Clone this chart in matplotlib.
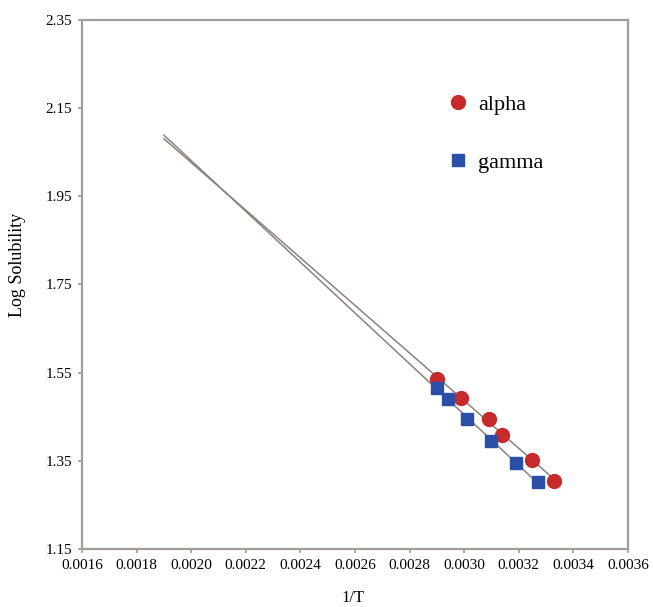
import numpy as np
import matplotlib.pyplot as plt

# Data
alpha_x = [0.00290, 0.00299, 0.00309, 0.00314, 0.00325, 0.00333]
alpha_y = [1.536, 1.493, 1.445, 1.409, 1.352, 1.305]
gamma_x = [0.00290, 0.00294, 0.00301, 0.00310, 0.00319, 0.00327]
gamma_y = [1.516, 1.491, 1.444, 1.394, 1.344, 1.303]

# Trend lines start here
line_start = 0.0019

xticks = np.arange(0.0016, 0.00361, 0.0002)
yticks = np.arange(1.15, 2.351, 0.2)

plt.rcParams['font.family'] = ['Liberation Serif', 'DejaVu Serif']

fig = plt.figure(figsize=(6.53, 6.07), dpi=100)
ax = fig.add_axes([0.1256, 0.0956, 0.8361, 0.8715])

frame = '#a39c97'
line_col = '#8c817c'

# Linear fits, drawn from line_start to the last point
for xs, ys in [(alpha_x, alpha_y), (gamma_x, gamma_y)]:
    k, b = np.polyfit(xs, ys, 1)
    xl = np.array([line_start, max(xs)])
    ax.plot(xl, k * xl + b, color=line_col, lw=1.1, zorder=2)

ax.plot(alpha_x, alpha_y, 'o', color='#c62a2b', ms=10, mec='#c62a2b', zorder=3, label='alpha')
ax.plot(gamma_x, gamma_y, 's', color='#2b4fa6', ms=8, mec='#2b4fa6', zorder=3, label='gamma')

ax.set_xlim(0.0016, 0.0036)
ax.set_ylim(1.15, 2.35)
ax.set_xticks(xticks)
ax.set_yticks(yticks)
ax.set_xticklabels([f'{v:.4f}' for v in xticks])
ax.set_yticklabels([f'{v:.2f}' for v in yticks])
ax.tick_params(labelsize=11, length=3, width=1.2, color=frame, pad=4)

for s in ax.spines.values():
    s.set_color(frame)
    s.set_linewidth(1.6)

ax.set_xlabel('1/T', fontsize=12)
ax.set_ylabel('Log Solubility', fontsize=13)
ax.xaxis.set_label_coords(0.497, -0.078)
ax.yaxis.set_label_coords(-0.103, 0.537)

ax.legend(loc='upper left', bbox_to_anchor=(0.652, 0.88), frameon=False,
          fontsize=16, handlelength=0.8, handletextpad=0.5, labelspacing=1.68,
          borderpad=0)

fig.savefig('out.png', dpi=100)
